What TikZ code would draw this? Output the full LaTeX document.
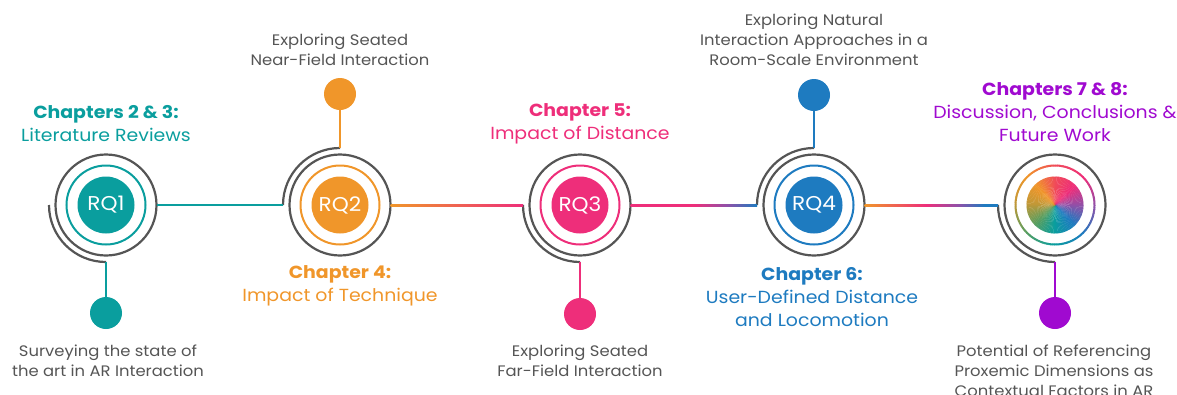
\documentclass[tikz,border=0pt]{standalone}
\usepackage{fontspec}
\setmainfont[FakeStretch=1.08]{Poppins}
\usetikzlibrary{calc}

\definecolor{cteal}{HTML}{0A9E9E}
\definecolor{corange}{HTML}{F0962A}
\definecolor{cpink}{HTML}{EE2E7A}
\definecolor{cblue}{HTML}{1E7BC0}
\definecolor{cpurple}{HTML}{A00AD0}
\definecolor{cviolet}{HTML}{9050A8}
\definecolor{cred}{HTML}{F04A5A}
\definecolor{cgreen}{HTML}{5A9E60}
\definecolor{colive}{HTML}{C09838}
\definecolor{cring}{HTML}{555555}
\definecolor{ctext}{HTML}{555555}

% multi-stop shadings for the connectors between stages
\pgfdeclarehorizontalshading{orpk}{100bp}{color(0bp)=(corange); color(25bp)=(corange); color(75bp)=(cpink); color(100bp)=(cpink)}
\pgfdeclarehorizontalshading{pkbl}{100bp}{color(0bp)=(cpink); color(25bp)=(cpink); color(50bp)=(cpink); color(63bp)=(cviolet); color(75bp)=(cblue); color(100bp)=(cblue)}
\pgfdeclarehorizontalshading{orbl}{100bp}{color(0bp)=(corange); color(25bp)=(corange); color(48bp)=(cpink); color(60bp)=(cviolet); color(70bp)=(cblue); color(75bp)=(cblue); color(100bp)=(cblue)}

\begin{document}
\begin{tikzpicture}[x=1pt,y=1pt,
  core/.style={circle, minimum size=57pt, inner sep=0pt, text=white,
               font=\fontsize{20}{24}\selectfont},
  dot/.style={circle, minimum size=32pt, inner sep=0pt},
  ring/.style={line width=2pt},
  grey/.style={draw=cring, line width=2.2pt},
  link/.style={line width=2pt},
  head/.style={font=\fontsize{17.5}{23}\selectfont, align=center},
  desc/.style={font=\fontsize{15.2}{20}\selectfont, align=center, text=ctext}]

\useasboundingbox (0,0) rectangle (1177,-394);
\clip (0,0) rectangle (1177,-394);

% ---------- stage circles ----------
\node[core, fill=cteal]   (q1) at (106,-205) {RQ1};
\node[core, fill=corange] (q2) at (340,-205) {RQ2};
\node[core, fill=cpink]   (q3) at (580,-205) {RQ3};
\node[core, fill=cblue]   (q4) at (814,-205) {RQ4};
\node[core]               (q5) at (1055,-205) {};

\foreach \q/\c in {q1/cteal, q2/corange, q3/cpink, q4/cblue}
  \draw[ring, \c] (\q.center) circle[radius=39.5];

\foreach \q in {q1,q2,q3,q4,q5}{
  \draw[grey] (\q.center) circle[radius=50.5];
  \coordinate (\q e) at ($(\q.center)+(0:50.5)$);
}

% spiral tails: downward for q1, q3, q5; upward for q2, q4
\foreach \q in {q1,q3,q5}
  \draw[grey] ($(\q.center)+(180:57)$) coordinate (\q w)
     arc[start angle=180, end angle=270, radius=57] coordinate (\q s);
\foreach \q in {q2,q4}
  \draw[grey] ($(\q.center)+(180:57)$) coordinate (\q w)
     arc[start angle=180, end angle=90, radius=57] coordinate (\q s);

% rainbow disc and ring of the final stage
\foreach \sa/\ea/\ca/\cb in {90/45/cred/cpink, 45/0/cpink/cviolet, 0/-45/cviolet/cblue,
    -45/-90/cblue/cteal, -90/-135/cteal/cgreen, -135/-180/cgreen/colive,
    -180/-225/colive/corange, -225/-270/corange/cred}{
  \foreach \i in {0,...,14}{
    \pgfmathsetmacro\p{\i*100/15}
    \pgfmathsetmacro\a{\sa+(\ea-\sa)*\i/15}
    \pgfmathsetmacro\b{\a-3.6}
    \fill[\cb!\p!\ca] (q5.center) -- ($(q5.center)+(\a:28.5)$)
      arc[start angle=\a, end angle=\b, radius=28.5] -- cycle;
    \draw[\cb!\p!\ca, line width=2pt] ($(q5.center)+(\a:39.5)$)
      arc[start angle=\a, end angle=\b, radius=39.5];
  }
}

% ---------- connectors along the timeline ----------
\draw[link, cteal] (q1e) -- (q2w);
\shade[shading=orpk] ($(q2e)+(0,1)$) rectangle ($(q3w)+(0,-1)$);
\shade[shading=pkbl] ($(q3e)+(0,1)$) rectangle ($(q4w)+(0,-1)$);
\shade[shading=orbl] ($(q4e)+(0,1)$) rectangle ($(q5w)+(0,-1)$);

% ---------- side dots with stems ----------
\node[dot, fill=cteal]   (d1) at (106,-313) {};
\node[dot, fill=corange] (d2) at (340,-94) {};
\node[dot, fill=cpink]   (d3) at (580,-314) {};
\node[dot, fill=cblue]   (d4) at (814,-95) {};
\node[dot, fill=cpurple] (d5) at (1055,-313) {};
\foreach \i/\c in {1/cteal, 2/corange, 3/cpink, 4/cblue, 5/cpurple}
  \draw[link, \c] (q\i s) -- (d\i);

% ---------- labels ----------
\node[head, text=cteal]   (h1) at (106,-123.5) {{\bfseries Chapters 2 \& 3:}\\Literature Reviews};
\node[head, text=corange] (h2) at (340,-285.5) {{\bfseries Chapter 4:}\\Impact of Technique};
\node[head, text=cpink]   (h3) at (580,-123.5) {{\bfseries Chapter 5:}\\Impact of Distance};
\node[head, text=cblue]   (h4) at (812,-297)   {{\bfseries Chapter 6:}\\User-Defined Distance\\and Locomotion};
\node[head, text=cpurple] (h5) at (1055,-112.5){{\bfseries Chapters 7 \& 8:}\\Discussion, Conclusions \&\\Future Work};

\node[desc] (t1) at (108,-361) {Surveying the state of\\the art in AR Interaction};
\node[desc] (t2) at (340,-50)  {Exploring Seated\\Near-Field Interaction};
\node[desc] (t3) at (580,-361) {Exploring Seated\\Far-Field Interaction};
\node[desc] (t4) at (814,-40)  {Exploring Natural\\Interaction Approaches in a\\Room-Scale Environment};
\node[desc] (t5) at (1054,-371){Potential of Referencing\\Proxemic Dimensions as\\Contextual Factors in AR};
\end{tikzpicture}
\end{document}
